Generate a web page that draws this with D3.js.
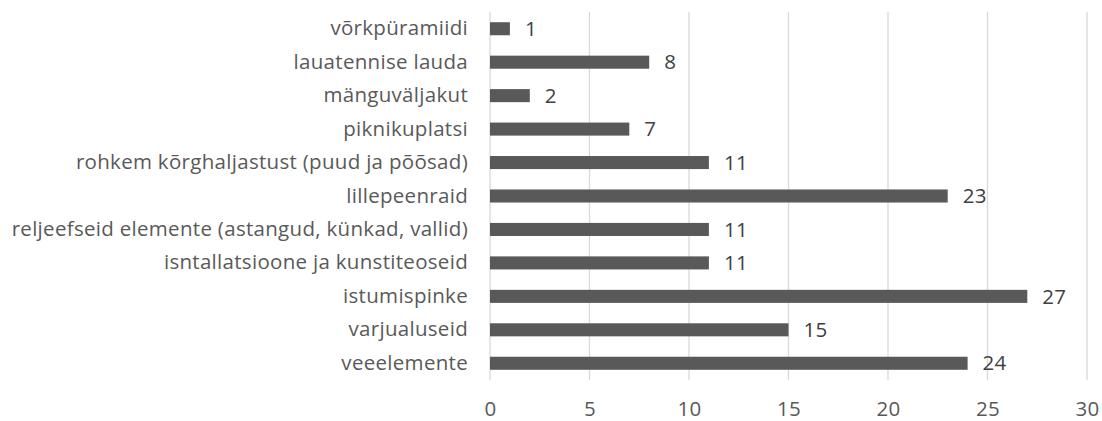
<!DOCTYPE html>
<html>
<head>
<meta charset="utf-8">
<script src="https://cdn.jsdelivr.net/npm/d3@7"></script>
<style>
  html, body { margin: 0; padding: 0; background: #ffffff; }
  svg { display: block; }
  text { font-family: "Open Sans", Lato, sans-serif; }
</style>
</head>
<body>
<svg id="chart" width="1102" height="421"></svg>
<script>
const categories = [
  "võrkpüramiidi",
  "lauatennise lauda",
  "mänguväljakut",
  "piknikuplatsi",
  "rohkem kõrghaljastust (puud ja põõsad)",
  "lillepeenraid",
  "reljeefseid elemente (astangud, künkad, vallid)",
  "isntallatsioone ja kunstiteoseid",
  "istumispinke",
  "varjualuseid",
  "veeelemente"
];
const counts = [1, 8, 2, 7, 11, 23, 11, 11, 27, 15, 24];
const xTicks = [0, 5, 10, 15, 20, 25, 30];

const svg = d3.select("#chart");
const margin = { top: 12, right: 15, bottom: 41, left: 490 };
const W = 1102, H = 421;
const fontSize = 20.5;
const spacing = "0.3px";

const x = d3.scaleLinear().domain([0, 30]).range([margin.left, W - margin.right]);
const y = d3.scaleBand().domain(categories).range([margin.top, H - margin.bottom]).paddingInner(0.61).paddingOuter(0.305);

// vertical gridlines
svg.append("g")
  .selectAll("line")
  .data(xTicks)
  .join("line")
  .attr("x1", d => x(d)).attr("x2", d => x(d))
  .attr("y1", margin.top).attr("y2", H - margin.bottom)
  .attr("stroke", "#d9d9d9").attr("stroke-width", 1.3);

// x axis tick labels
const xAxis = d3.axisBottom(x).tickValues(xTicks).tickSize(0).tickPadding(0);
const gx = svg.append("g").attr("transform", `translate(0,${H - 5})`).call(xAxis);
gx.select(".domain").remove();
gx.selectAll("text")
  .attr("fill", "#595959").attr("font-size", fontSize).attr("letter-spacing", spacing)
  .attr("dy", null).attr("y", 0);

// category labels
const yAxis = d3.axisLeft(y).tickSize(0).tickPadding(22);
const gy = svg.append("g").attr("transform", `translate(${margin.left},0)`).call(yAxis);
gy.select(".domain").remove();
gy.selectAll("text").attr("fill", "#595959").attr("font-size", fontSize).attr("letter-spacing", spacing);

// bars
svg.append("g")
  .selectAll("rect")
  .data(categories)
  .join("rect")
  .attr("x", x(0))
  .attr("y", d => y(d))
  .attr("width", (d, i) => x(counts[i]) - x(0))
  .attr("height", y.bandwidth())
  .attr("fill", "#595959");

// value labels
svg.append("g")
  .selectAll("text")
  .data(categories)
  .join("text")
  .attr("x", (d, i) => x(counts[i]) + 15)
  .attr("y", d => y(d) + y.bandwidth() / 2)
  .attr("dy", "0.35em")
  .attr("fill", "#404040")
  .attr("font-size", fontSize)
  .attr("letter-spacing", spacing)
  .text((d, i) => counts[i]);
</script>
</body>
</html>
